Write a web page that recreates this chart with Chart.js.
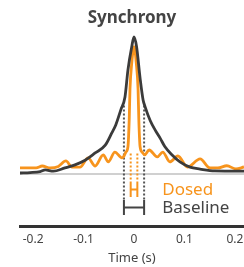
<!DOCTYPE html>
<html>
<head>
<meta charset="utf-8">
<script src="https://cdn.jsdelivr.net/npm/chart.js@4/dist/chart.umd.min.js"></script>
<style>
  html, body { margin: 0; padding: 0; background: #fff; }
  #wrap { width: 244px; height: 267px; }
</style>
</head>
<body>
<div id="wrap"><canvas id="syncChart"></canvas></div>
<script>
const xTicks = [-0.2, -0.1, 0, 0.1, 0.2];
const xRange = [-0.226, 0.218];

// dosed cross-correlation (orange)
const dosedTime = [-0.226, -0.206, -0.194, -0.182, -0.166, -0.150, -0.135, -0.123, -0.107, -0.091,
  -0.077, -0.061, -0.051, -0.038, -0.024, -0.020, -0.016, -0.012, -0.0095, -0.008, -0.0045, 0,
  0.0045, 0.008, 0.0095, 0.012, 0.016, 0.021, 0.030, 0.046, 0.057, 0.071, 0.087, 0.106,
  0.131, 0.150, 0.166, 0.184, 0.202, 0.218];
const dosedSync = [0.044, 0.044, 0.044, 0.058, 0.044, 0.055, 0.095, 0.05, 0.05, 0.117,
  0.058, 0.139, 0.088, 0.16, 0.117, 0.13, 0.16, 0.20, 0.40, 0.62, 0.81, 0.93,
  0.81, 0.62, 0.40, 0.20, 0.16, 0.14, 0.175, 0.124, 0.16, 0.088, 0.131, 0.05,
  0.11, 0.045, 0.044, 0.06, 0.036, 0.051];

// baseline cross-correlation (dark)
const baselineTime = [-0.226, -0.206, -0.186, -0.176, -0.160, -0.137, -0.117, -0.097, -0.077, -0.057,
  -0.044, -0.036, -0.026, -0.018, -0.012, -0.0046, 0, 0.005, 0.012, 0.018, 0.022, 0.032,
  0.042, 0.052, 0.061, 0.075, 0.091, 0.111, 0.131, 0.16, 0.218];
const baselineSync = [0.007, 0.01, 0.017, 0.03, 0.02, 0.044, 0.066, 0.10, 0.153, 0.21,
  0.30, 0.36, 0.47, 0.56, 0.76, 0.927, 1.0, 0.93, 0.70, 0.54, 0.49, 0.39,
  0.32, 0.26, 0.2, 0.14, 0.088, 0.05, 0.036, 0.022, 0.02];

// half width of each peak (s)
const dosedHalfWidth = 0.0066;
const baselineHalfWidth = 0.02;

const seriesNames = ["Dosed", "Baseline"];

const ORANGE = "#f7941d";
const DARK = "#3b3b3b";
const FONT = '"Noto Sans", "Open Sans", sans-serif';

function toPoints(xs, ys) {
  return xs.map((x, i) => ({ x: x, y: ys[i] }));
}

// two dotted drops, one on each side of the peak
function drops(half, top, bottom) {
  return [{ x: -half, y: top }, { x: -half, y: bottom }, { x: 0, y: null },
          { x: half, y: top }, { x: half, y: bottom }];
}

// H shaped width marker
function bracket(half, top, bottom) {
  const mid = (top + bottom) / 2;
  return [{ x: -half, y: top }, { x: -half, y: bottom }, { x: 0, y: null },
          { x: half, y: top }, { x: half, y: bottom }, { x: 0, y: null },
          { x: -half, y: mid }, { x: half, y: mid }];
}

const straight = { tension: 0, pointRadius: 0, spanGaps: false };

const legendText = {
  id: "legendText",
  afterDatasetsDraw(chart) {
    const { ctx, scales } = chart;
    const x = scales.x.getPixelForValue(0.056);
    ctx.save();
    ctx.font = "17px " + FONT;
    ctx.textAlign = "left";
    ctx.textBaseline = "alphabetic";
    ctx.fillStyle = ORANGE;
    ctx.fillText(seriesNames[0], x, scales.y.getPixelForValue(-0.153));
    ctx.fillStyle = "#444";
    ctx.fillText(seriesNames[1], x, scales.y.getPixelForValue(-0.285));
    ctx.restore();
  }
};

new Chart(document.getElementById("syncChart"), {
  type: "line",
  data: {
    datasets: [
      { // baseline curve on top
        data: toPoints(baselineTime, baselineSync),
        borderColor: DARK, borderWidth: 2.8, pointRadius: 0,
        cubicInterpolationMode: "monotone", order: 1
      },
      {
        data: toPoints(dosedTime, dosedSync),
        borderColor: ORANGE, borderWidth: 2.8, pointRadius: 0,
        cubicInterpolationMode: "monotone", order: 2
      },
      {
        data: drops(dosedHalfWidth, 0.15, -0.058),
        borderColor: ORANGE, borderWidth: 2, borderDash: [2, 2], ...straight, order: 3
      },
      {
        data: drops(baselineHalfWidth, 0.5, -0.19),
        borderColor: "#555", borderWidth: 2, borderDash: [2, 2], ...straight, order: 3
      },
      {
        data: bracket(dosedHalfWidth, -0.058, -0.168),
        borderColor: ORANGE, borderWidth: 2, ...straight, order: 3
      },
      {
        data: bracket(baselineHalfWidth, -0.19, -0.30),
        borderColor: "#444", borderWidth: 2, ...straight, order: 3
      },
      { // zero line
        data: toPoints(xRange, [0, 0]),
        borderColor: "#d0d0d0", borderWidth: 2, ...straight, order: 9
      }
    ]
  },
  plugins: [legendText],
  options: {
    animation: false,
    responsive: true,
    maintainAspectRatio: false,
    devicePixelRatio: 1,
    layout: { padding: { left: 20, right: 0, top: 0, bottom: 0 } },
    plugins: {
      legend: { display: false },
      tooltip: { enabled: false },
      title: {
        display: true,
        text: "Synchrony",
        color: "#444",
        font: { family: FONT, size: 17, weight: "bold", lineHeight: 1.2 },
        padding: { top: 8.3, bottom: 1.3 }
      }
    },
    scales: {
      x: {
        type: "linear",
        min: xRange[0],
        max: xRange[1],
        grid: { display: false, drawTicks: false },
        border: { display: true, color: "#333", width: 3 },
        ticks: {
          color: "#444",
          padding: 8,
          font: { family: FONT, size: 12, lineHeight: 1 },
          callback: (v) => String(v)
        },
        afterBuildTicks: (scale) => { scale.ticks = xTicks.map((v) => ({ value: v })); },
        afterFit: (scale) => { scale.paddingLeft = 0; scale.paddingRight = 0; },
        title: {
          display: true,
          text: "Time (s)",
          color: "#444",
          font: { family: FONT, size: 13, lineHeight: 1 },
          padding: { top: -2.5, bottom: 2.5 }
        }
      },
      y: {
        type: "linear",
        display: false,
        min: -0.38,
        max: 1.051
      }
    }
  }
});
</script>
</body>
</html>
